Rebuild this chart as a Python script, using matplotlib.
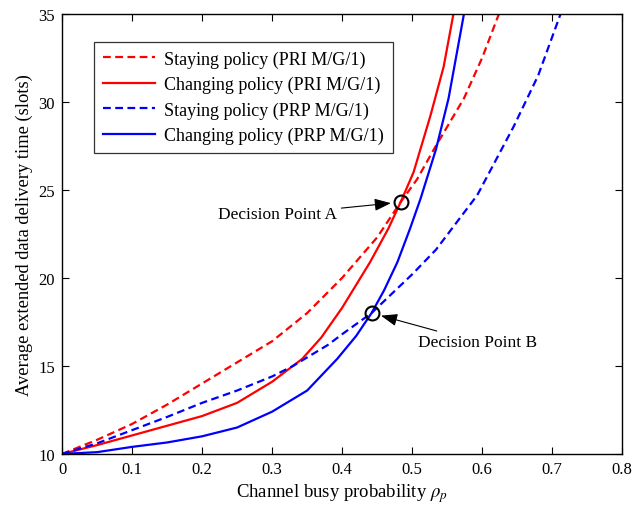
import matplotlib
matplotlib.use("Agg")
import matplotlib.pyplot as plt

plt.rcParams['font.family'] = ['Liberation Serif', 'DejaVu Serif']
plt.rcParams['mathtext.fontset'] = 'stix'

# Staying policy (PRI M/G/1)
rho_sp = [0, 0.05, 0.1, 0.15, 0.2, 0.25, 0.3, 0.35, 0.4, 0.45, 0.4835, 0.507, 0.531, 0.574, 0.6, 0.624]
d_sp = [10.0, 10.8, 11.7, 12.8, 14.0, 15.2, 16.4, 18.0, 20.0, 22.3, 24.3, 25.6, 27.3, 30.2, 32.5, 35.0]
# Changing policy (PRI M/G/1)
rho_cp = [0, 0.05, 0.1, 0.15, 0.2, 0.25, 0.3, 0.343, 0.37, 0.4, 0.44, 0.466, 0.4835, 0.502, 0.526, 0.545, 0.559]
d_cp = [10.0, 10.5, 11.05, 11.6, 12.15, 12.9, 14.1, 15.4, 16.6, 18.3, 20.9, 22.8, 24.3, 26.0, 29.2, 32.0, 35.0]
# Staying policy (PRP M/G/1)
rho_sr = [0, 0.05, 0.1, 0.15, 0.2, 0.25, 0.3, 0.33, 0.38, 0.4, 0.442, 0.5, 0.534, 0.593, 0.645, 0.68, 0.712]
d_sr = [10.0, 10.6, 11.35, 12.1, 12.9, 13.6, 14.4, 15.0, 16.2, 16.8, 18.0, 20.2, 21.6, 24.7, 28.6, 31.5, 35.0]
# Changing policy (PRP M/G/1)
rho_cr = [0, 0.05, 0.1, 0.15, 0.2, 0.25, 0.3, 0.35, 0.393, 0.42, 0.442, 0.46, 0.479, 0.497, 0.512, 0.534, 0.552, 0.574]
d_cr = [10.0, 10.1, 10.4, 10.65, 11.0, 11.5, 12.4, 13.6, 15.4, 16.7, 18.0, 19.3, 20.9, 22.8, 24.5, 27.3, 30.2, 35.0]

point_a = (0.4835, 24.3)
point_b = (0.442, 18.0)

x_ticks = [0, 0.1, 0.2, 0.3, 0.4, 0.5, 0.6, 0.7, 0.8]
y_ticks = [10, 15, 20, 25, 30, 35]

fig = plt.figure(figsize=(6.33, 5.10), dpi=100)
ax = fig.add_axes([0.098, 0.108, 0.885, 0.863])

dash = (0, (3.5, 2.0))
lw = 1.6
ax.plot(rho_sp, d_sp, color='#ff0000', lw=lw, linestyle=dash, label='Staying policy (PRI M/G/1)')
ax.plot(rho_cp, d_cp, color='#ff0000', lw=lw, label='Changing policy (PRI M/G/1)')
ax.plot(rho_sr, d_sr, color='#0000ff', lw=lw, linestyle=dash, label='Staying policy (PRP M/G/1)')
ax.plot(rho_cr, d_cr, color='#0000ff', lw=lw, label='Changing policy (PRP M/G/1)')

for p in (point_a, point_b):
    ax.plot([p[0]], [p[1]], marker='o', ms=10, mfc='none', mec='k', mew=1.5)

arrow = dict(arrowstyle='-|>,head_length=0.8,head_width=0.3', color='k', lw=0.8,
             shrinkA=1, shrinkB=7)
ax.annotate('Decision Point A', xy=point_a, xytext=(0.393, 23.6), ha='right', va='center',
            fontsize=12.5, arrowprops=arrow)
ax.annotate('Decision Point B', xy=point_b, xytext=(0.508, 16.35), ha='left', va='center',
            fontsize=12.5, arrowprops=arrow)

ax.set_xlim(0, 0.8)
ax.set_ylim(10, 35)
ax.set_xticks(x_ticks)
ax.set_xticklabels(['0'] + [f'{v:g}' for v in x_ticks[1:]])
ax.set_yticks(y_ticks)
ax.tick_params(direction='in', top=True, right=True, labelsize=12, length=5, width=0.8, pad=5)
for s in ax.spines.values():
    s.set_linewidth(1.0)

ax.set_xlabel(r'Channel busy probability $\rho_p$', fontsize=13.5, labelpad=3)
ax.set_ylabel('Average extended data delivery time (slots)', fontsize=13.3)

leg = ax.legend(loc='upper left', bbox_to_anchor=(0.057, 0.937), fontsize=13,
                handlelength=2.9, frameon=True, fancybox=False, edgecolor='k',
                borderpad=0.5, labelspacing=0.45, handletextpad=0.5, borderaxespad=0)
leg.get_frame().set_linewidth(0.9)

fig.savefig('out.png', dpi=100)
